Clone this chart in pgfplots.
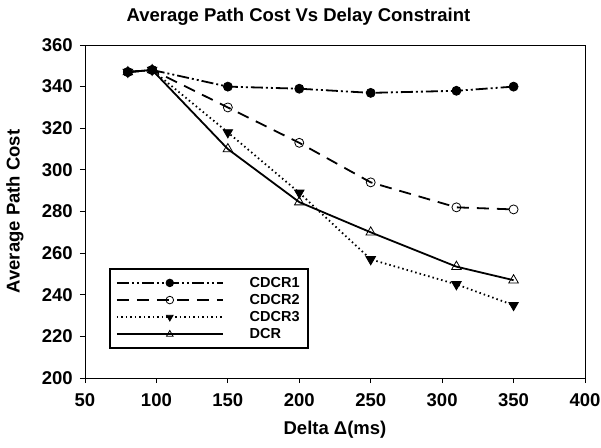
\documentclass[border=0pt]{standalone}
\usepackage{pgfplots}
\pgfplotsset{compat=1.18}
\usepackage{fontspec}
\setmainfont{Liberation Sans}
\begin{document}
\begin{tikzpicture}
\begin{axis}[
    scale only axis,
    width=500pt, height=333pt,
    xmin=50, xmax=400, ymin=200, ymax=360,
    xtick={50,100,...,400}, ytick={200,220,...,360},
    tick align=outside, xtick pos=bottom, ytick pos=left,
    major tick length=5pt,
    axis line style={line width=0.8pt},
    every tick/.style={black, line width=0.8pt},
    /pgf/number format/assume math mode=true,
    /pgf/number format/1000 sep=,
    ticklabel style={font=\fontsize{18.5}{21}\selectfont\bfseries},
    yticklabel style={xshift=-3pt},
    xticklabel style={yshift=-6pt},
    title={Average Path Cost Vs Delay Constraint},
    title style={font=\fontsize{18.5}{21}\selectfont\bfseries, at={(axis description cs:0.427,1.066)}, anchor=center},
    xlabel={Delta Δ(ms)},
    xlabel style={font=\fontsize{18.5}{21}\selectfont\bfseries, at={(axis description cs:0.5,-0.156)}, anchor=center},
    ylabel={Average Path Cost},
    ylabel style={font=\fontsize{18.5}{21}\selectfont\bfseries, at={(axis description cs:-0.14,0.5)}, anchor=center},
    legend style={at={(0.048,0.087)}, anchor=south west, draw=black,
        font=\fontsize{14.5}{16}\selectfont\bfseries, inner xsep=6pt, inner ysep=6pt,
        row sep=1.5pt},
    legend cell align=left,
    legend image code/.code={\draw[line width=1.8pt, mark size=3.8pt, mark repeat=2, mark phase=2] plot coordinates {(0pt,0pt) (53pt,0pt) (106pt,0pt)};},
    line width=1.8pt,
]
\addplot[black, dash pattern=on 12pt off 3pt on 2pt off 3pt on 2pt off 3pt, mark=*, mark size=4.5pt, mark options={solid, line width=0.8pt}]
    coordinates {(80,347) (97,348) (150,340) (200,339) (250,337) (310,338) (350,340)};
\addlegendentry{\hspace*{24pt}CDCR1}
\addplot[black, dash pattern=on 12pt off 8pt, mark=o, mark options={solid, fill=white, line width=0.8pt}, mark size=4.5pt]
    coordinates {(80,347) (97,348) (150,330) (200,313) (250,294) (310,282) (350,281)};
\addlegendentry{\hspace*{24pt}CDCR2}
\addplot[black, dash pattern=on 1.5pt off 3pt, mark=triangle*, mark options={solid, rotate=180, line width=0.8pt}, mark size=5.5pt]
    coordinates {(80,347) (97,348) (150,318) (200,289) (250,257) (310,245) (350,235)};
\addlegendentry{\hspace*{24pt}CDCR3}
\addplot[black, mark=triangle, mark options={solid, fill=white, line width=0.8pt}, mark size=5.5pt]
    coordinates {(80,347) (97,348) (150,310) (200,284.5) (250,270) (310,253.5) (350,247)};
\addlegendentry{\hspace*{24pt}DCR}
\end{axis}
\pgfresetboundingbox
\path[use as bounding box] (-85pt,-69pt) rectangle (516pt,378pt);
\end{tikzpicture}
\end{document}
